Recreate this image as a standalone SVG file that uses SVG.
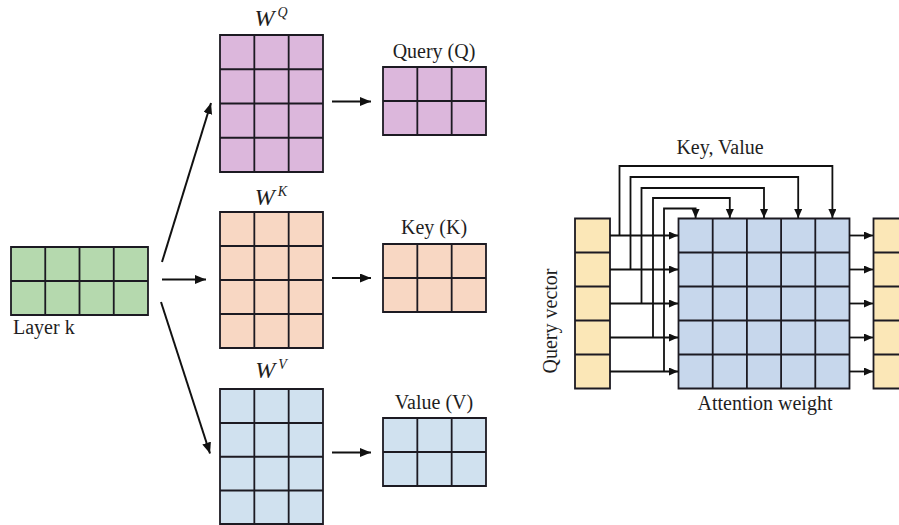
<svg xmlns="http://www.w3.org/2000/svg" width="899" height="525" viewBox="0 0 899 525">
<defs>
<style>
.lbl{font-family:"Liberation Serif","Times New Roman",serif;font-size:20px;fill:#1e1e1e}
.w{font-family:"Liberation Serif","Times New Roman",serif;font-style:italic;font-size:24px;fill:#1e1e1e}
.sup{font-size:14px}
.g{stroke:#1c1a22;stroke-width:1.8;fill:none}
.con{stroke:#111;stroke-width:2;fill:none}
.con2{stroke:#111;stroke-width:1.8;fill:none}
.pur{fill:#dcb7dc}
.grn{fill:#b5d9ae}
.pch{fill:#f8d7c3}
.blu{fill:#d0e1ef}
.att{fill:#c7d7ec}
.yel{fill:#fbe7b7}
</style>
<marker id="ah" markerUnits="userSpaceOnUse" markerWidth="12" markerHeight="10" refX="11" refY="4.5" orient="auto">
<path d="M0,0 L11,4.5 L0,9 z" fill="#111"/>
</marker>
<marker id="ah2" markerUnits="userSpaceOnUse" markerWidth="10" markerHeight="9" refX="9" refY="4" orient="auto">
<path d="M0,0 L9,4 L0,8 z" fill="#111"/>
</marker>
</defs>
<rect width="899" height="525" fill="#fff"/>

<g id="layer-k">
<rect class="grn" x="11" y="247" width="137" height="68"/>
<path class="g" d="M11,247h137v68h-137z M45.25,247v68 M79.5,247v68 M113.75,247v68 M11,281h137"/>
<text class="lbl" x="13" y="334">Layer k</text>
</g>

<g id="wq">
<rect class="pur" x="220" y="35" width="103" height="137"/>
<path class="g" d="M220,35h103v137h-103z M254.33,35v137 M288.67,35v137 M220,69.25h103 M220,103.5h103 M220,137.75h103"/>
<text class="w" x="271" y="26" text-anchor="middle">W<tspan class="sup" dx="3" dy="-9">Q</tspan></text>
</g>

<g id="wk">
<rect class="pch" x="220" y="212" width="103" height="136"/>
<path class="g" d="M220,212h103v136h-103z M254.33,212v136 M288.67,212v136 M220,246h103 M220,280h103 M220,314h103"/>
<text class="w" x="271" y="205" text-anchor="middle">W<tspan class="sup" dx="3" dy="-9">K</tspan></text>
</g>

<g id="wv">
<rect class="blu" x="220" y="389" width="103" height="135"/>
<path class="g" d="M220,389h103v135h-103z M254.33,389v135 M288.67,389v135 M220,423h103 M220,456.75h103 M220,490.5h103"/>
<text class="w" x="271" y="378" text-anchor="middle">W<tspan class="sup" dx="3" dy="-9">V</tspan></text>
</g>

<g id="query">
<rect class="pur" x="383" y="67" width="103" height="68"/>
<path class="g" d="M383,67h103v68h-103z M417.33,67v68 M451.67,67v68 M383,101h103"/>
<text class="lbl" x="434" y="58" text-anchor="middle">Query (Q)</text>
</g>

<g id="key">
<rect class="pch" x="383" y="244" width="103" height="68"/>
<path class="g" d="M383,244h103v68h-103z M417.33,244v68 M451.67,244v68 M383,278h103"/>
<text class="lbl" x="434" y="234" text-anchor="middle">Key (K)</text>
</g>

<g id="value">
<rect class="blu" x="383" y="418" width="103" height="68"/>
<path class="g" d="M383,418h103v68h-103z M417.33,418v68 M451.67,418v68 M383,452h103"/>
<text class="lbl" x="434" y="409" text-anchor="middle">Value (V)</text>
</g>

<g id="query-vector">
<rect class="yel" x="575" y="218.5" width="35" height="170"/>
<path class="g" d="M575,218.5h35v170h-35z M575,252.5h35 M575,286.5h35 M575,320.5h35 M575,354.5h35"/>
<text class="lbl" transform="translate(557,321) rotate(-90)" text-anchor="middle">Query vector</text>
</g>

<g id="attention-weight">
<rect class="att" x="678.5" y="218.5" width="171" height="170"/>
<path class="g" d="M678.5,218.5h171v170h-171z M712.7,218.5v170 M746.9,218.5v170 M781.1,218.5v170 M815.3,218.5v170 M678.5,252.5h171 M678.5,286.5h171 M678.5,320.5h171 M678.5,354.5h171"/>
<text class="lbl" x="765" y="410" text-anchor="middle">Attention weight</text>
</g>

<g id="output-vector">
<rect class="yel" x="873.5" y="218.5" width="35" height="170"/>
<path class="g" d="M873.5,218.5h35v170h-35z M873.5,252.5h35 M873.5,286.5h35 M873.5,320.5h35 M873.5,354.5h35"/>
</g>

<g id="kv-label">
<text class="lbl" x="720" y="154" text-anchor="middle">Key, Value</text>
</g>

<g id="connectors">
<line class="con" x1="162" y1="262" x2="211" y2="103" marker-end="url(#ah)"/>
<line class="con" x1="162" y1="279.5" x2="206" y2="279.5" marker-end="url(#ah)"/>
<line class="con" x1="161" y1="302" x2="210" y2="453.5" marker-end="url(#ah)"/>
<line class="con" x1="332" y1="101.5" x2="371" y2="101.5" marker-end="url(#ah)"/>
<line class="con" x1="332" y1="278" x2="371" y2="278" marker-end="url(#ah)"/>
<line class="con" x1="332" y1="452.5" x2="371" y2="452.5" marker-end="url(#ah)"/>

<line class="con2" x1="610" y1="235.5" x2="678" y2="235.5" marker-end="url(#ah2)"/>
<line class="con2" x1="610" y1="269.5" x2="678" y2="269.5" marker-end="url(#ah2)"/>
<line class="con2" x1="610" y1="303.5" x2="678" y2="303.5" marker-end="url(#ah2)"/>
<line class="con2" x1="610" y1="337.5" x2="678" y2="337.5" marker-end="url(#ah2)"/>
<line class="con2" x1="610" y1="371.5" x2="678" y2="371.5" marker-end="url(#ah2)"/>

<path class="con2" d="M619.5,235.5V166H832.4V218" marker-end="url(#ah2)"/>
<path class="con2" d="M630.5,269.5V177H798.2V218" marker-end="url(#ah2)"/>
<path class="con2" d="M641.5,303.5V188H764V218" marker-end="url(#ah2)"/>
<path class="con2" d="M653,337.5V198H729.8V218" marker-end="url(#ah2)"/>
<path class="con2" d="M664,371.5V208.5H695.6V218" marker-end="url(#ah2)"/>

<line class="con2" x1="849.5" y1="235.5" x2="873" y2="235.5" marker-end="url(#ah2)"/>
<line class="con2" x1="849.5" y1="269.5" x2="873" y2="269.5" marker-end="url(#ah2)"/>
<line class="con2" x1="849.5" y1="303.5" x2="873" y2="303.5" marker-end="url(#ah2)"/>
<line class="con2" x1="849.5" y1="337.5" x2="873" y2="337.5" marker-end="url(#ah2)"/>
<line class="con2" x1="849.5" y1="371.5" x2="873" y2="371.5" marker-end="url(#ah2)"/>
</g>
</svg>
